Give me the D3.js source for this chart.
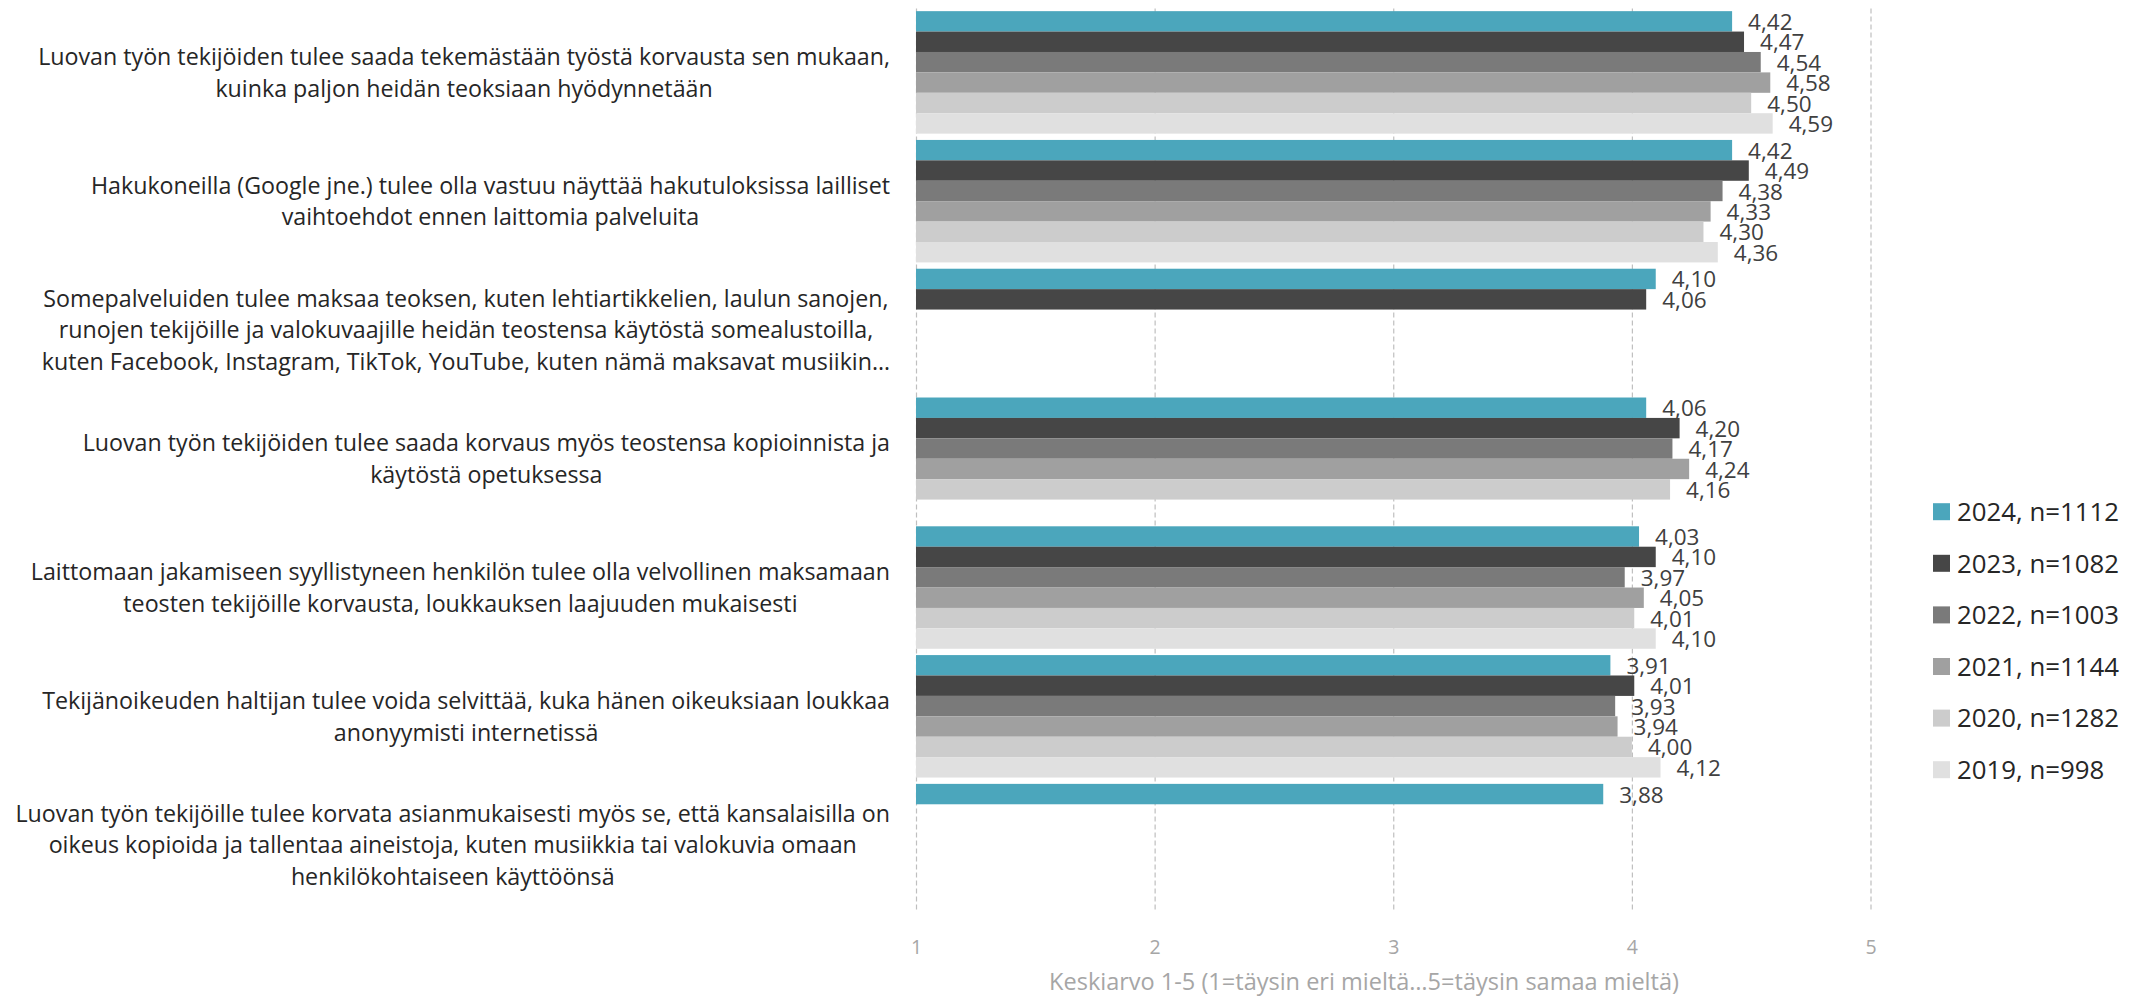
<!DOCTYPE html>
<html><head><meta charset="utf-8">
<script src="https://cdn.jsdelivr.net/npm/d3@7"></script>
<style>
body{margin:0;background:#fff;}
svg{display:block;font-family:"Open Sans",Lato,sans-serif;}
</style>
</head><body>
<svg id="chart" width="2136" height="998"></svg>
<script>
const categories = [
  "Luovan työn tekijöiden tulee saada tekemästään työstä korvausta sen mukaan,\nkuinka paljon heidän teoksiaan hyödynnetään",
  "Hakukoneilla (Google jne.) tulee olla vastuu näyttää hakutuloksissa lailliset\nvaihtoehdot ennen laittomia palveluita",
  "Somepalveluiden tulee maksaa teoksen, kuten lehtiartikkelien, laulun sanojen,\nrunojen tekijöille ja valokuvaajille heidän teostensa käytöstä somealustoilla,\nkuten Facebook, Instagram, TikTok, YouTube, kuten nämä maksavat musiikin…",
  "Luovan työn tekijöiden tulee saada korvaus myös teostensa kopioinnista ja\nkäytöstä opetuksessa",
  "Laittomaan jakamiseen syyllistyneen henkilön tulee olla velvollinen maksamaan\nteosten tekijöille korvausta, loukkauksen laajuuden mukaisesti",
  "Tekijänoikeuden haltijan tulee voida selvittää, kuka hänen oikeuksiaan loukkaa\nanonyymisti internetissä",
  "Luovan työn tekijöille tulee korvata asianmukaisesti myös se, että kansalaisilla on\noikeus kopioida ja tallentaa aineistoja, kuten musiikkia tai valokuvia omaan\nhenkilökohtaiseen käyttöönsä"
];
const seriesNames = ["2024, n=1112", "2023, n=1082", "2022, n=1003", "2021, n=1144", "2020, n=1282", "2019, n=998"];
const seriesColors = ["#4ba6bc", "#464646", "#7a7a7a", "#a0a0a0", "#cccccc", "#e0e0e0"];
const v2024 = [4.42, 4.42, 4.10, 4.06, 4.03, 3.91, 3.88];
const v2023 = [4.47, 4.49, 4.06, 4.20, 4.10, 4.01, null];
const v2022 = [4.54, 4.38, null, 4.17, 3.97, 3.93, null];
const v2021 = [4.58, 4.33, null, 4.24, 4.05, 3.94, null];
const v2020 = [4.50, 4.30, null, 4.16, 4.01, 4.00, null];
const v2019 = [4.59, 4.36, null, null, 4.10, 4.12, null];
const seriesValues = [v2024, v2023, v2022, v2021, v2020, v2019];
const xTicks = [1, 2, 3, 4, 5];
const axisTitle = "Keskiarvo 1-5 (1=täysin eri mieltä…5=täysin samaa mieltä)";

const svg = d3.select("#chart");
const plotTop = 8, plotBottom = 909.5, plotLeft = 916, plotRight = 1870.5;

const x = d3.scaleLinear().domain([1, 5]).range([plotLeft, plotRight]);
const y = d3.scaleBand().domain(d3.range(categories.length))
  .range([plotTop, plotBottom]).paddingInner(0.049).paddingOuter(0.0245);
const ys = d3.scaleBand().domain(d3.range(seriesNames.length)).range([0, y.bandwidth()]);

const fmt = d => d3.format(".2f")(d).replace(".", ",");

// measure helper to fit font size to a target width
function fitSize(text, base, target) {
  const t = svg.append("text").style("font-size", base + "px").text(text);
  const w = t.node().getComputedTextLength();
  t.remove();
  return base * target / w;
}

// gridlines + tick labels
const axis = svg.append("g")
  .attr("transform", `translate(0,${plotBottom})`)
  .call(d3.axisBottom(x).tickValues(xTicks).tickSize(-(plotBottom - plotTop)).tickPadding(30.5).tickFormat(d3.format("d")));
axis.select(".domain").remove();
axis.selectAll(".tick line").attr("stroke", "#bfbfbf").attr("stroke-width", 1.2).attr("stroke-dasharray", "5,3");
axis.selectAll(".tick text").attr("fill", "#a6a6a6").style("font-size", "19.5px").style("font-family", "Open Sans");

// bars
const rows = [];
seriesValues.forEach((arr, s) => arr.forEach((v, c) => { if (v != null) rows.push({s, c, v}); }));

svg.append("g").selectAll("rect").data(rows).join("rect")
  .attr("x", x(1))
  .attr("y", d => y(d.c) + ys(d.s))
  .attr("width", d => x(d.v) - x(1))
  .attr("height", ys.bandwidth())
  .attr("fill", d => seriesColors[d.s]);

svg.append("g").selectAll("text").data(rows).join("text")
  .attr("x", d => x(d.v) + 16)
  .attr("y", d => y(d.c) + ys(d.s) + ys.bandwidth() / 2)
  .attr("dy", "0.38em")
  .attr("fill", "#404040")
  .style("font-size", "22.5px")
  .text(d => fmt(d.v));

// category labels
const catSize = fitSize(categories[0].split("\n")[0], 21, 852);
const labelRight = 890, lineH = 31.8;
categories.forEach((cat, i) => {
  const lines = cat.split("\n");
  const t = svg.append("text").attr("fill", "#262626").style("font-size", catSize + "px").attr("text-anchor", "middle");
  const cy = y(i) + y.bandwidth() / 2;
  lines.forEach((ln, k) => {
    t.append("tspan").attr("x", 0)
      .attr("y", cy + (k - (lines.length - 1) / 2) * lineH)
      .attr("dy", "0.36em").text(ln);
  });
  const w = d3.max(t.selectAll("tspan").nodes(), n => n.getComputedTextLength());
  t.selectAll("tspan").attr("x", labelRight - w / 2);
});

// axis title
const titleSize = fitSize(axisTitle, 21, 630);
svg.append("text")
  .attr("x", 1364).attr("y", 990)
  .attr("text-anchor", "middle").attr("fill", "#a6a6a6")
  .style("font-size", titleSize + "px").text(axisTitle);

// legend
const legend = svg.append("g");
seriesNames.forEach((name, i) => {
  const cy = 511.7 + i * 51.6;
  legend.append("rect").attr("x", 1933).attr("y", cy - 8.5).attr("width", 17).attr("height", 17).attr("fill", seriesColors[i]);
  legend.append("text").attr("x", 1957).attr("y", cy).attr("dy", "0.36em")
    .attr("fill", "#262626").style("font-size", "25.8px").text(name);
});
</script>
</body></html>
